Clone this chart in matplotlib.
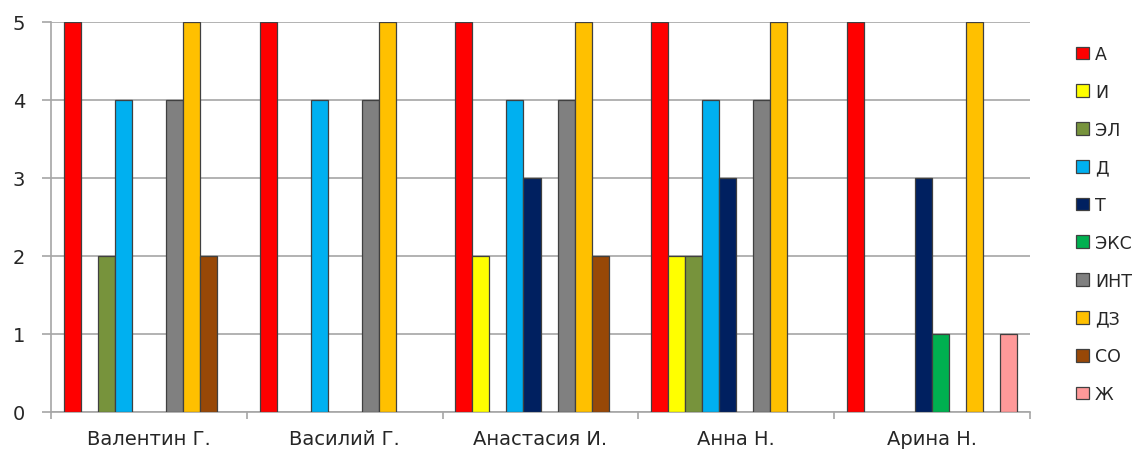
import numpy as np
import matplotlib
matplotlib.use("Agg")
import matplotlib.pyplot as plt
from matplotlib.patches import Patch

plt.rcParams['font.family'] = ['DejaVu Sans']

students = ["Валентин Г.", "Василий Г.", "Анастасия И.", "Анна Н.", "Арина Н."]
series = ["А", "И", "ЭЛ", "Д", "Т", "ЭКС", "ИНТ", "ДЗ", "СО", "Ж"]
colors = ["#FF0000", "#FFFF00", "#77933C", "#00B0F0", "#002060",
          "#00B050", "#808080", "#FFC000", "#984807", "#FF9999"]

A   = [5, 5, 5, 5, 5]
I   = [0, 0, 2, 2, 0]
EL  = [2, 0, 0, 2, 0]
D   = [4, 4, 4, 4, 0]
T   = [0, 0, 3, 3, 3]
EKS = [0, 0, 0, 0, 1]
INT = [4, 4, 4, 4, 0]
DZ  = [5, 5, 5, 5, 5]
SO  = [2, 0, 2, 0, 0]
ZH  = [0, 0, 0, 0, 1]
values = [A, I, EL, D, T, EKS, INT, DZ, SO, ZH]

W, H = 1144, 452
fig = plt.figure(figsize=(W / 100, H / 100), dpi=100)
ax = fig.add_axes([51 / W, 1 - 413 / H, (1030 - 51) / W, (413 - 23) / H])

n = len(series)
gap = 1.5
bw = 1.0 / (n + gap)
x = np.arange(len(students))
grid_c = "#A6A6A6"
text_c = "#262626"
for i, (name, vals, c) in enumerate(zip(series, values, colors)):
    v = np.array(vals, dtype=float)
    v = np.where(v == 0, np.nan, v)
    pos = x - 0.5 + bw * gap / 2 + bw * (i + 0.5)
    ax.bar(pos, v, width=bw, color=c, edgecolor="#404040", linewidth=0.9, zorder=3)

ax.set_xlim(-0.5, len(students) - 0.5)
ax.set_ylim(0, 5)
ax.set_yticks(range(6))
ax.set_yticklabels([str(t) for t in range(6)], fontsize=14, color=text_c)
ax.yaxis.grid(True, color=grid_c, linewidth=1.2, zorder=0)
ax.set_xticks(x)
ax.set_xticklabels(students, fontsize=14, color=text_c)
ax.set_xticks(np.arange(len(students) + 1) - 0.5, minor=True)
ax.tick_params(axis='x', which='major', length=0, pad=12.5)
ax.tick_params(axis='x', which='minor', length=5, width=1.2, color=grid_c)
ax.tick_params(axis='y', length=6.5, width=1.2, color=grid_c, pad=12)
for s in ["top", "right"]:
    ax.spines[s].set_visible(False)
for s in ["left", "bottom"]:
    ax.spines[s].set_color(grid_c)
    ax.spines[s].set_linewidth(1.2)
ax.set_axisbelow(True)

handles = [Patch(facecolor=c, edgecolor="#404040", linewidth=0.9) for c in colors]
leg = fig.legend(handles, series, loc="upper left", bbox_to_anchor=(1069 / W, 1 - 39 / H),
                 frameon=False, fontsize=12.5, handlelength=0.75, handleheight=0.75,
                 handletextpad=0.35, labelspacing=1.14, borderaxespad=0)
for t in leg.get_texts():
    t.set_color(text_c)

fig.savefig("out.png", dpi=100, facecolor="white")
